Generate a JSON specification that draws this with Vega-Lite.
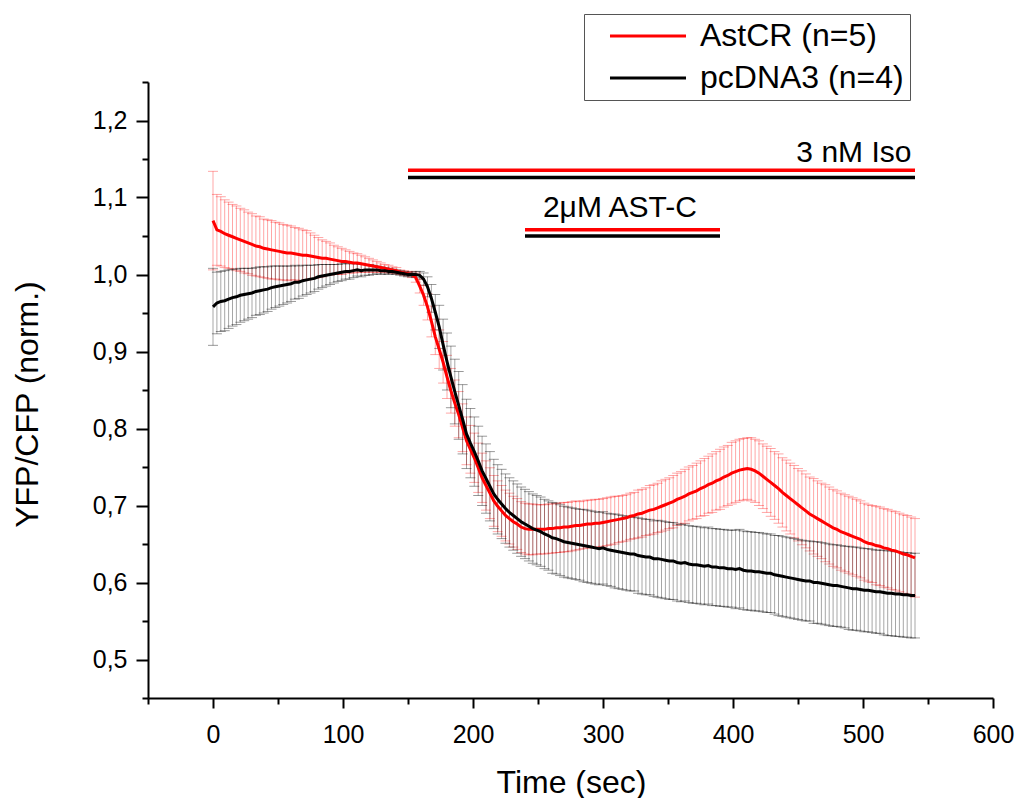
{
"$schema":"https://vega.github.io/schema/vega-lite/v6.json",
"width":845,"height":616,
"autosize":{"type":"none"},
"padding":{"left":148,"top":82,"right":25,"bottom":100},
"background":"#ffffff",
"config":{"view":{"stroke":null},"font":"Liberation Sans",
"axis":{"grid":false,"domainColor":"#000","domainWidth":2,"tickColor":"#000","tickWidth":2,"labelColor":"#000","labelFont":"Liberation Sans","labelFontSize":25,"titleFont":"Liberation Sans","titleFontSize":32,"titleFontWeight":"normal","titleColor":"#000","labelFlush":false,"labelOverlap":false}},
"resolve":{"axis":{"x":"independent","y":"independent"}},
"datasets":{
"astcr":[
{"t":0,"m":1.070,"e":0.064},{"t":3,"m":1.058,"e":0.046},{"t":6,"m":1.056,"e":0.045},{"t":9,"m":1.053,"e":0.044},{"t":12,"m":1.051,"e":0.043},{"t":15,"m":1.049,"e":0.042},{"t":18,"m":1.047,"e":0.042},{"t":21,"m":1.045,"e":0.041},{"t":24,"m":1.043,"e":0.041},{"t":27,"m":1.041,"e":0.040},{"t":30,"m":1.039,"e":0.040},{"t":33,"m":1.037,"e":0.039},{"t":36,"m":1.036,"e":0.039},{"t":39,"m":1.034,"e":0.038},{"t":42,"m":1.033,"e":0.038},{"t":45,"m":1.032,"e":0.038},{"t":48,"m":1.031,"e":0.037},{"t":51,"m":1.030,"e":0.037},{"t":54,"m":1.029,"e":0.036},{"t":57,"m":1.028,"e":0.036},{"t":60,"m":1.028,"e":0.035},{"t":63,"m":1.027,"e":0.034},{"t":66,"m":1.026,"e":0.034},{"t":69,"m":1.025,"e":0.033},{"t":72,"m":1.025,"e":0.032},{"t":75,"m":1.024,"e":0.030},{"t":78,"m":1.023,"e":0.028},{"t":81,"m":1.022,"e":0.026},{"t":84,"m":1.021,"e":0.024},{"t":87,"m":1.021,"e":0.022},{"t":90,"m":1.020,"e":0.021},{"t":93,"m":1.019,"e":0.019},{"t":96,"m":1.018,"e":0.018},{"t":99,"m":1.017,"e":0.017},{"t":102,"m":1.017,"e":0.015},{"t":105,"m":1.016,"e":0.014},{"t":108,"m":1.015,"e":0.013},{"t":111,"m":1.015,"e":0.012},{"t":114,"m":1.014,"e":0.011},{"t":117,"m":1.013,"e":0.010},{"t":120,"m":1.012,"e":0.009},{"t":123,"m":1.011,"e":0.008},{"t":126,"m":1.010,"e":0.007},{"t":129,"m":1.009,"e":0.006},{"t":132,"m":1.008,"e":0.005},{"t":135,"m":1.007,"e":0.005},{"t":138,"m":1.006,"e":0.004},{"t":141,"m":1.005,"e":0.004},{"t":144,"m":1.003,"e":0.003},{"t":147,"m":1.002,"e":0.003},{"t":150,"m":1.001,"e":0.003},{"t":153,"m":1.000,"e":0.004},{"t":156,"m":0.996,"e":0.006},{"t":159,"m":0.985,"e":0.009},{"t":162,"m":0.973,"e":0.013},{"t":165,"m":0.958,"e":0.017},{"t":168,"m":0.939,"e":0.020},{"t":171,"m":0.919,"e":0.023},{"t":174,"m":0.903,"e":0.025},{"t":177,"m":0.886,"e":0.027},{"t":180,"m":0.867,"e":0.028},{"t":183,"m":0.849,"e":0.029},{"t":186,"m":0.833,"e":0.030},{"t":189,"m":0.818,"e":0.030},{"t":192,"m":0.801,"e":0.031},{"t":195,"m":0.784,"e":0.031},{"t":198,"m":0.773,"e":0.031},{"t":201,"m":0.762,"e":0.032},{"t":204,"m":0.749,"e":0.032},{"t":207,"m":0.736,"e":0.032},{"t":210,"m":0.726,"e":0.032},{"t":213,"m":0.716,"e":0.033},{"t":216,"m":0.706,"e":0.033},{"t":219,"m":0.699,"e":0.033},{"t":222,"m":0.693,"e":0.033},{"t":225,"m":0.687,"e":0.033},{"t":228,"m":0.683,"e":0.033},{"t":231,"m":0.679,"e":0.033},{"t":234,"m":0.676,"e":0.033},{"t":237,"m":0.672,"e":0.033},{"t":240,"m":0.670,"e":0.033},{"t":243,"m":0.669,"e":0.033},{"t":246,"m":0.669,"e":0.033},{"t":249,"m":0.669,"e":0.032},{"t":252,"m":0.669,"e":0.032},{"t":255,"m":0.669,"e":0.032},{"t":258,"m":0.670,"e":0.032},{"t":261,"m":0.670,"e":0.032},{"t":264,"m":0.671,"e":0.032},{"t":267,"m":0.671,"e":0.032},{"t":270,"m":0.672,"e":0.032},{"t":273,"m":0.672,"e":0.032},{"t":276,"m":0.673,"e":0.032},{"t":279,"m":0.674,"e":0.032},{"t":282,"m":0.674,"e":0.031},{"t":285,"m":0.675,"e":0.031},{"t":288,"m":0.676,"e":0.031},{"t":291,"m":0.676,"e":0.031},{"t":294,"m":0.677,"e":0.031},{"t":297,"m":0.677,"e":0.031},{"t":300,"m":0.678,"e":0.031},
{"t":303,"m":0.679,"e":0.031},{"t":306,"m":0.680,"e":0.031},{"t":309,"m":0.681,"e":0.031},{"t":312,"m":0.682,"e":0.030},{"t":315,"m":0.683,"e":0.030},{"t":318,"m":0.684,"e":0.030},{"t":321,"m":0.686,"e":0.030},{"t":324,"m":0.687,"e":0.030},{"t":327,"m":0.689,"e":0.031},{"t":330,"m":0.690,"e":0.031},{"t":333,"m":0.692,"e":0.031},{"t":336,"m":0.694,"e":0.032},{"t":339,"m":0.695,"e":0.032},{"t":342,"m":0.697,"e":0.032},{"t":345,"m":0.699,"e":0.033},{"t":348,"m":0.701,"e":0.033},{"t":351,"m":0.703,"e":0.033},{"t":354,"m":0.705,"e":0.034},{"t":357,"m":0.708,"e":0.034},{"t":360,"m":0.710,"e":0.034},{"t":363,"m":0.712,"e":0.035},{"t":366,"m":0.715,"e":0.035},{"t":369,"m":0.717,"e":0.035},{"t":372,"m":0.719,"e":0.036},{"t":375,"m":0.722,"e":0.036},{"t":378,"m":0.724,"e":0.037},{"t":381,"m":0.727,"e":0.037},{"t":384,"m":0.729,"e":0.038},{"t":387,"m":0.732,"e":0.038},{"t":390,"m":0.734,"e":0.039},{"t":393,"m":0.737,"e":0.039},{"t":396,"m":0.739,"e":0.039},{"t":399,"m":0.742,"e":0.040},{"t":402,"m":0.744,"e":0.040},{"t":405,"m":0.746,"e":0.040},{"t":408,"m":0.747,"e":0.040},{"t":411,"m":0.748,"e":0.040},{"t":414,"m":0.747,"e":0.041},{"t":417,"m":0.745,"e":0.041},{"t":420,"m":0.742,"e":0.042},{"t":423,"m":0.738,"e":0.042},{"t":426,"m":0.734,"e":0.043},{"t":429,"m":0.730,"e":0.044},{"t":432,"m":0.726,"e":0.044},{"t":435,"m":0.722,"e":0.045},{"t":438,"m":0.717,"e":0.045},{"t":441,"m":0.713,"e":0.046},{"t":444,"m":0.709,"e":0.046},{"t":447,"m":0.705,"e":0.047},{"t":450,"m":0.701,"e":0.047},{"t":453,"m":0.697,"e":0.048},{"t":456,"m":0.693,"e":0.048},{"t":459,"m":0.689,"e":0.048},{"t":462,"m":0.686,"e":0.049},{"t":465,"m":0.683,"e":0.049},{"t":468,"m":0.680,"e":0.049},{"t":471,"m":0.677,"e":0.050},{"t":474,"m":0.674,"e":0.050},{"t":477,"m":0.671,"e":0.050},{"t":480,"m":0.669,"e":0.050},{"t":483,"m":0.666,"e":0.050},{"t":486,"m":0.664,"e":0.050},{"t":489,"m":0.662,"e":0.050},{"t":492,"m":0.660,"e":0.050},{"t":495,"m":0.658,"e":0.050},{"t":498,"m":0.656,"e":0.050},{"t":501,"m":0.653,"e":0.050},{"t":504,"m":0.651,"e":0.050},{"t":507,"m":0.650,"e":0.050},{"t":510,"m":0.648,"e":0.051},{"t":513,"m":0.647,"e":0.051},{"t":516,"m":0.645,"e":0.051},{"t":519,"m":0.644,"e":0.051},{"t":522,"m":0.642,"e":0.051},{"t":525,"m":0.641,"e":0.051},{"t":528,"m":0.639,"e":0.051},{"t":531,"m":0.637,"e":0.051},{"t":534,"m":0.636,"e":0.051},{"t":537,"m":0.634,"e":0.051},{"t":540,"m":0.632,"e":0.051}
],
"pcdna":[
{"t":0,"m":0.958,"e":0.050},{"t":3,"m":0.963,"e":0.040},{"t":6,"m":0.965,"e":0.039},{"t":9,"m":0.966,"e":0.039},{"t":12,"m":0.968,"e":0.038},{"t":15,"m":0.970,"e":0.037},{"t":18,"m":0.971,"e":0.036},{"t":21,"m":0.973,"e":0.035},{"t":24,"m":0.974,"e":0.034},{"t":27,"m":0.975,"e":0.033},{"t":30,"m":0.976,"e":0.032},{"t":33,"m":0.978,"e":0.031},{"t":36,"m":0.979,"e":0.031},{"t":39,"m":0.980,"e":0.030},{"t":42,"m":0.981,"e":0.029},{"t":45,"m":0.983,"e":0.028},{"t":48,"m":0.984,"e":0.027},{"t":51,"m":0.985,"e":0.026},{"t":54,"m":0.986,"e":0.025},{"t":57,"m":0.987,"e":0.024},{"t":60,"m":0.988,"e":0.023},{"t":63,"m":0.990,"e":0.022},{"t":66,"m":0.990,"e":0.021},{"t":69,"m":0.992,"e":0.020},{"t":72,"m":0.993,"e":0.019},{"t":75,"m":0.994,"e":0.018},{"t":78,"m":0.995,"e":0.017},{"t":81,"m":0.997,"e":0.016},{"t":84,"m":0.998,"e":0.015},{"t":87,"m":0.999,"e":0.014},{"t":90,"m":1.000,"e":0.013},{"t":93,"m":1.001,"e":0.012},{"t":96,"m":1.002,"e":0.011},{"t":99,"m":1.003,"e":0.011},{"t":102,"m":1.004,"e":0.010},{"t":105,"m":1.004,"e":0.010},{"t":108,"m":1.005,"e":0.009},{"t":111,"m":1.006,"e":0.008},{"t":114,"m":1.005,"e":0.008},{"t":117,"m":1.006,"e":0.007},{"t":120,"m":1.006,"e":0.007},{"t":123,"m":1.006,"e":0.006},{"t":126,"m":1.006,"e":0.005},{"t":129,"m":1.005,"e":0.005},{"t":132,"m":1.005,"e":0.004},{"t":135,"m":1.004,"e":0.004},{"t":138,"m":1.004,"e":0.003},{"t":141,"m":1.003,"e":0.003},{"t":144,"m":1.002,"e":0.003},{"t":147,"m":1.001,"e":0.003},{"t":150,"m":1.000,"e":0.003},{"t":153,"m":1.000,"e":0.003},{"t":156,"m":1.000,"e":0.004},{"t":159,"m":0.999,"e":0.005},{"t":162,"m":0.994,"e":0.008},{"t":165,"m":0.984,"e":0.013},{"t":168,"m":0.969,"e":0.018},{"t":171,"m":0.951,"e":0.023},{"t":174,"m":0.932,"e":0.028},{"t":177,"m":0.909,"e":0.033},{"t":180,"m":0.887,"e":0.037},{"t":183,"m":0.867,"e":0.040},{"t":186,"m":0.848,"e":0.042},{"t":189,"m":0.830,"e":0.044},{"t":192,"m":0.812,"e":0.045},{"t":195,"m":0.793,"e":0.045},{"t":198,"m":0.781,"e":0.045},{"t":201,"m":0.770,"e":0.045},{"t":204,"m":0.758,"e":0.045},{"t":207,"m":0.745,"e":0.045},{"t":210,"m":0.735,"e":0.045},{"t":213,"m":0.725,"e":0.045},{"t":216,"m":0.715,"e":0.045},{"t":219,"m":0.708,"e":0.045},{"t":222,"m":0.702,"e":0.045},{"t":225,"m":0.696,"e":0.045},{"t":228,"m":0.691,"e":0.045},{"t":231,"m":0.687,"e":0.045},{"t":234,"m":0.683,"e":0.045},{"t":237,"m":0.679,"e":0.045},{"t":240,"m":0.676,"e":0.045},{"t":243,"m":0.673,"e":0.045},{"t":246,"m":0.670,"e":0.045},{"t":249,"m":0.668,"e":0.045},{"t":252,"m":0.666,"e":0.045},{"t":255,"m":0.663,"e":0.045},{"t":258,"m":0.661,"e":0.045},{"t":261,"m":0.658,"e":0.046},{"t":264,"m":0.657,"e":0.046},{"t":267,"m":0.655,"e":0.046},{"t":270,"m":0.653,"e":0.046},{"t":273,"m":0.652,"e":0.046},{"t":276,"m":0.651,"e":0.046},{"t":279,"m":0.650,"e":0.046},{"t":282,"m":0.649,"e":0.046},{"t":285,"m":0.648,"e":0.047},{"t":288,"m":0.647,"e":0.047},{"t":291,"m":0.646,"e":0.047},{"t":294,"m":0.645,"e":0.047},{"t":297,"m":0.644,"e":0.047},{"t":300,"m":0.645,"e":0.047},
{"t":303,"m":0.643,"e":0.047},{"t":306,"m":0.642,"e":0.047},{"t":309,"m":0.641,"e":0.048},{"t":312,"m":0.640,"e":0.048},{"t":315,"m":0.639,"e":0.048},{"t":318,"m":0.638,"e":0.048},{"t":321,"m":0.637,"e":0.048},{"t":324,"m":0.637,"e":0.048},{"t":327,"m":0.635,"e":0.049},{"t":330,"m":0.634,"e":0.049},{"t":333,"m":0.633,"e":0.049},{"t":336,"m":0.633,"e":0.049},{"t":339,"m":0.631,"e":0.049},{"t":342,"m":0.631,"e":0.050},{"t":345,"m":0.630,"e":0.050},{"t":348,"m":0.629,"e":0.050},{"t":351,"m":0.628,"e":0.050},{"t":354,"m":0.628,"e":0.050},{"t":357,"m":0.626,"e":0.050},{"t":360,"m":0.625,"e":0.050},{"t":363,"m":0.626,"e":0.050},{"t":366,"m":0.624,"e":0.050},{"t":369,"m":0.623,"e":0.050},{"t":372,"m":0.623,"e":0.050},{"t":375,"m":0.622,"e":0.050},{"t":378,"m":0.621,"e":0.050},{"t":381,"m":0.622,"e":0.050},{"t":384,"m":0.620,"e":0.050},{"t":387,"m":0.620,"e":0.050},{"t":390,"m":0.619,"e":0.050},{"t":393,"m":0.619,"e":0.050},{"t":396,"m":0.618,"e":0.050},{"t":399,"m":0.618,"e":0.050},{"t":402,"m":0.617,"e":0.051},{"t":405,"m":0.618,"e":0.051},{"t":408,"m":0.616,"e":0.051},{"t":411,"m":0.615,"e":0.051},{"t":414,"m":0.615,"e":0.051},{"t":417,"m":0.614,"e":0.051},{"t":420,"m":0.614,"e":0.051},{"t":423,"m":0.613,"e":0.051},{"t":426,"m":0.612,"e":0.051},{"t":429,"m":0.612,"e":0.051},{"t":432,"m":0.610,"e":0.051},{"t":435,"m":0.609,"e":0.052},{"t":438,"m":0.608,"e":0.052},{"t":441,"m":0.607,"e":0.052},{"t":444,"m":0.606,"e":0.052},{"t":447,"m":0.605,"e":0.052},{"t":450,"m":0.604,"e":0.052},{"t":453,"m":0.603,"e":0.052},{"t":456,"m":0.602,"e":0.052},{"t":459,"m":0.602,"e":0.052},{"t":462,"m":0.600,"e":0.053},{"t":465,"m":0.600,"e":0.053},{"t":468,"m":0.599,"e":0.053},{"t":471,"m":0.598,"e":0.053},{"t":474,"m":0.597,"e":0.053},{"t":477,"m":0.596,"e":0.053},{"t":480,"m":0.596,"e":0.053},{"t":483,"m":0.595,"e":0.053},{"t":486,"m":0.594,"e":0.053},{"t":489,"m":0.593,"e":0.054},{"t":492,"m":0.592,"e":0.054},{"t":495,"m":0.592,"e":0.054},{"t":498,"m":0.591,"e":0.054},{"t":501,"m":0.590,"e":0.054},{"t":504,"m":0.590,"e":0.054},{"t":507,"m":0.589,"e":0.054},{"t":510,"m":0.588,"e":0.054},{"t":513,"m":0.588,"e":0.054},{"t":516,"m":0.587,"e":0.055},{"t":519,"m":0.586,"e":0.055},{"t":522,"m":0.586,"e":0.055},{"t":525,"m":0.585,"e":0.055},{"t":528,"m":0.585,"e":0.055},{"t":531,"m":0.584,"e":0.055},{"t":534,"m":0.584,"e":0.055},{"t":537,"m":0.583,"e":0.055},{"t":540,"m":0.583,"e":0.055}
],
"bars":[
{"start":150,"end":540,"level":1.1355,"grp":"AstCR (n=5)"},
{"start":150,"end":540,"level":1.126,"grp":"pcDNA3 (n=4)"},
{"start":240,"end":390,"level":1.058,"grp":"AstCR (n=5)"},
{"start":240,"end":390,"level":1.050,"grp":"pcDNA3 (n=4)"}
],
"notes":[
{"label":"3 nM Iso","t":493,"v":1.146},
{"label":"2μM AST-C","t":313,"v":1.0747}
]
},
"layer":[
{"data":{"name":"astcr"},
"mark":{"type":"errorbar","ticks":{"size":10,"color":"#ff0000","opacity":0.35},"rule":{"color":"#ff0000","opacity":0.35,"strokeWidth":1}},
"encoding":{
"x":{"field":"t","type":"quantitative","title":"Time (sec)","scale":{"domain":[-50,600],"nice":false,"zero":false},
"axis":{"orient":"bottom","values":[0,100,200,300,400,500,600],"tickSize":10,"labelPadding":34,"labelBaseline":"alphabetic","titleX":423,"titleY":94,"titleBaseline":"alphabetic"}},
"y":{"field":"m","type":"quantitative","title":"YFP/CFP (norm.)","scale":{"domain":[0.45,1.25],"nice":false,"zero":false},
"axis":{"orient":"left","values":[0.5,0.6,0.7,0.8,0.9,1.0,1.1,1.2],"format":".1f","labelExpr":"replace(datum.label, '.', ',')","tickSize":12,"labelPadding":9,"labelBaseline":"middle","titleX":-111,"titleY":322,"titleAngle":-90,"titleBaseline":"alphabetic"}},
"yError":{"field":"e"}}},
{"data":{"name":"pcdna"},
"mark":{"type":"errorbar","ticks":{"size":10,"color":"#000000","opacity":0.4},"rule":{"color":"#000000","opacity":0.35,"strokeWidth":1}},
"encoding":{
"x":{"field":"t","type":"quantitative","title":null,
"axis":{"orient":"bottom","values":[-50,50,150,250,350,450,550],"labels":false,"domain":false,"tickSize":6}},
"y":{"field":"m","type":"quantitative","title":null,
"axis":{"orient":"left","values":[0.45,0.55,0.65,0.75,0.85,0.95,1.05,1.15,1.25],"labels":false,"domain":false,"tickSize":6}},
"yError":{"field":"e"}}},
{"data":{"name":"astcr"},
"mark":{"type":"line","strokeWidth":3},
"encoding":{
"x":{"field":"t","type":"quantitative","axis":null},
"y":{"field":"m","type":"quantitative","axis":null},
"color":{"datum":"AstCR (n=5)","type":"nominal","scale":{"domain":["AstCR (n=5)","pcDNA3 (n=4)"],"range":["#ff0000","#000000"]},
"legend":{"orient":"none","legendX":436,"legendY":-68,"title":null,"strokeColor":"#555555","fillColor":"#ffffff","padding":6,"symbolType":"M-3,0H3","symbolSize":642,"symbolStrokeWidth":3,"labelFontSize":32,"labelFont":"Liberation Sans","labelColor":"#000000","labelLimit":500,"symbolOffset":42,"labelOffset":36,"rowPadding":10}}}},
{"data":{"name":"pcdna"},
"mark":{"type":"line","strokeWidth":3},
"encoding":{
"x":{"field":"t","type":"quantitative","axis":null},
"y":{"field":"m","type":"quantitative","axis":null},
"color":{"datum":"pcDNA3 (n=4)","type":"nominal"}}},
{"data":{"name":"bars"},
"mark":{"type":"rule","strokeWidth":3.5},
"encoding":{
"x":{"field":"start","type":"quantitative","axis":null},
"x2":{"field":"end"},
"y":{"field":"level","type":"quantitative","axis":null},
"color":{"field":"grp","type":"nominal","legend":null}}},
{"data":{"name":"notes"},
"mark":{"type":"text","font":"Liberation Sans","fontSize":30,"align":"center","baseline":"alphabetic","color":"#000000"},
"encoding":{
"x":{"field":"t","type":"quantitative","axis":null},
"y":{"field":"v","type":"quantitative","axis":null},
"text":{"field":"label"}}}
]
}
